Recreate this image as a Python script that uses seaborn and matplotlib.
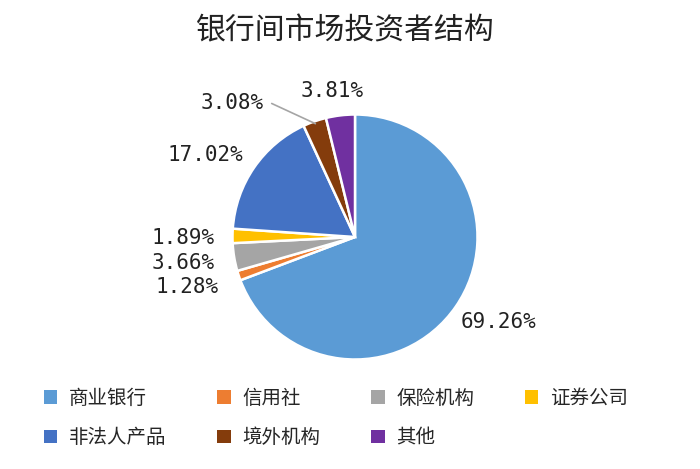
import numpy as np
import matplotlib
matplotlib.use('Agg')
import matplotlib.pyplot as plt
import seaborn as sns
from matplotlib.patches import Patch

categories = ['商业银行', '信用社', '保险机构', '证券公司', '非法人产品', '境外机构', '其他']
shares = [69.26, 1.28, 3.66, 1.89, 17.02, 3.08, 3.81]
colors = ['#5B9BD5', '#ED7D31', '#A5A5A5', '#FFC000', '#4472C4', '#843C0C', '#7030A0']
title = '银行间市场投资者结构'

# label centres (pie radius = 1)
label_xy = [(1.17, -0.69), (-1.37, -0.41), (-1.40, -0.21), (-1.40, -0.01),
            (-1.22, 0.67), (-1.00, 1.09), (-0.19, 1.19)]

sns.set_theme(style='white')
plt.rcParams['font.family'] = ['Noto Sans CJK SC', 'DejaVu Sans']

fig = plt.figure(figsize=(7, 4.69), dpi=100)
ax = fig.add_axes([0, 0, 1, 1])
R = 122.5  # pixels per unit
cx, cy = 355, 469 - 237

wedges, _ = ax.pie(shares, colors=colors, startangle=90, counterclock=False,
                   radius=1, wedgeprops=dict(edgecolor='white', linewidth=1.8))
ax.set_aspect('auto')
ax.set_xlim(-cx / R, (700 - cx) / R)
ax.set_ylim(-cy / R, (469 - cy) / R)
ax.axis('off')

for i, (w, v) in enumerate(zip(wedges, shares)):
    lx, ly = label_xy[i]
    ax.text(lx, ly, f'{v:.2f}%', ha='center', va='center', fontsize=15,
            family=['DejaVu Sans Mono'], color='#222222')
    if categories[i] == '境外机构':
        ang = np.deg2rad((w.theta1 + w.theta2) / 2)
        ax.plot([lx + 0.32, np.cos(ang) * 0.98], [ly, np.sin(ang) * 0.98],
                color='#A5A5A5', lw=1.2)

fig.text(0.494, 1 - 31 / 469, title, ha='center', va='center', fontsize=21.5,
         color='#222222')

# legend fills column by column, so reorder to read row by row
order = [0, 4, 1, 5, 2, 6, 3]
handles = [Patch(facecolor=colors[k], edgecolor='none') for k in order]
fig.legend(handles, [categories[k] for k in order], ncol=4, loc='center',
           bbox_to_anchor=(0.480, 1 - 418 / 469), frameon=False, fontsize=14,
           handlelength=0.7, handleheight=0.7, handletextpad=0.6,
           columnspacing=2.6, labelspacing=0.95)

fig.savefig('out.png', dpi=100)
